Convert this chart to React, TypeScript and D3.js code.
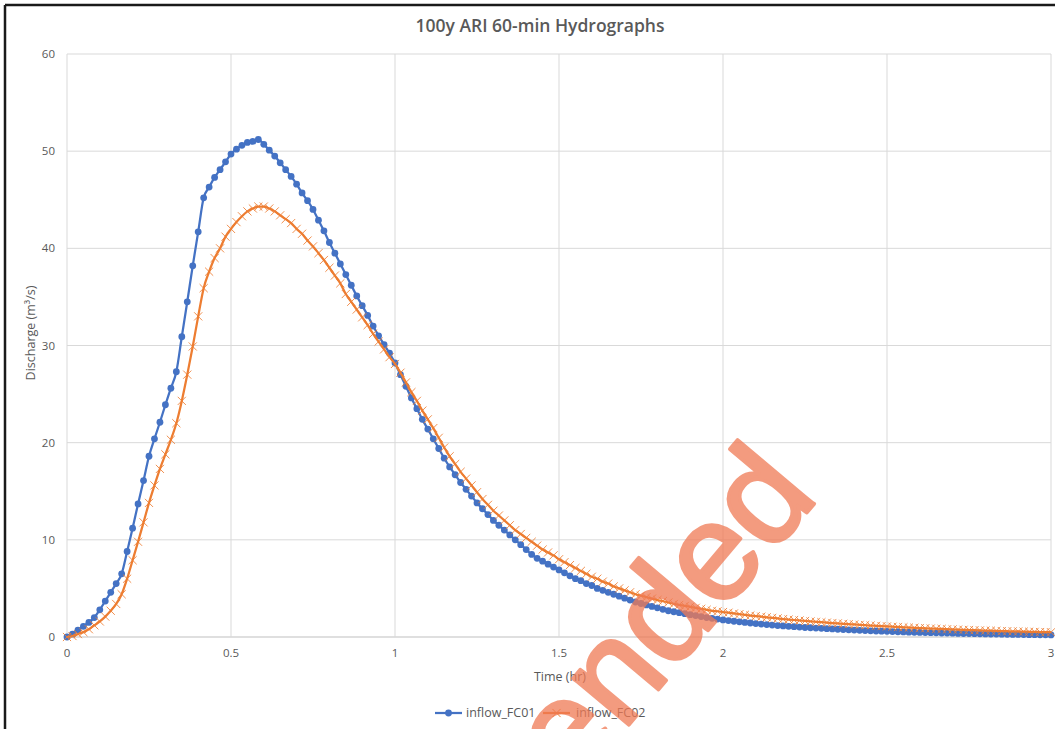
import React from "react";
import * as d3 from "d3";

const TITLE = "100y ARI 60-min Hydrographs";
const X_TITLE = "Time (hr)";
const Y_TITLE = "Discharge (m³/s)";
const SERIES_NAMES = ["inflow_FC01", "inflow_FC02"];
const X_TICKS = [0, 0.5, 1, 1.5, 2, 2.5, 3];
const X_TICK_LABELS = ["0", "0.5", "1", "1.5", "2", "2.5", "3"];
const Y_TICKS = [0, 10, 20, 30, 40, 50, 60];
const TIME_STEP_HR = 1 / 60;

// Discharge (m3/s), one value per minute from 0 to 180 min
const inflowFC01 = [
  0, 0.3, 0.7, 1.1, 1.5, 2.0, 2.8, 3.7, 4.6, 5.5,
  6.5, 8.8, 11.2, 13.7, 16.1, 18.6, 20.4, 22.1, 23.9, 25.6,
  27.3, 30.9, 34.5, 38.2, 41.7, 45.2, 46.3, 47.3, 48.1, 48.9,
  49.7, 50.2, 50.6, 50.9, 51.0, 51.2, 50.7, 50.1, 49.5, 48.8,
  48.1, 47.4, 46.6, 45.7, 44.9, 44.0, 42.9, 41.8, 40.6, 39.5,
  38.4, 37.3, 36.2, 35.1, 34.1, 33.1, 32.0, 31.0, 30.1, 29.2,
  28.2, 27.0, 25.8, 24.6, 23.5, 22.4, 21.4, 20.4, 19.4, 18.4,
  17.5, 16.7, 15.9, 15.2, 14.5, 13.8, 13.2, 12.6, 12.0, 11.5,
  11.0, 10.5, 10.0, 9.5, 9.0, 8.5, 8.1, 7.8, 7.5, 7.2,
  6.9, 6.6, 6.3, 6.0, 5.8, 5.5, 5.3, 5.0, 4.8, 4.6,
  4.4, 4.2, 4.0, 3.8, 3.6, 3.45, 3.3, 3.15, 3.0, 2.85,
  2.7, 2.6, 2.5, 2.4, 2.3, 2.2, 2.1, 2.0, 1.92, 1.84,
  1.76, 1.69, 1.62, 1.56, 1.5, 1.44, 1.38, 1.33, 1.28, 1.23,
  1.18, 1.14, 1.1, 1.06, 1.02, 0.98, 0.95, 0.92, 0.89, 0.86,
  0.83, 0.8, 0.77, 0.74, 0.71, 0.69, 0.66, 0.64, 0.62, 0.6,
  0.58, 0.56, 0.54, 0.52, 0.5, 0.49, 0.47, 0.46, 0.44, 0.43,
  0.41, 0.4, 0.39, 0.37, 0.36, 0.35, 0.34, 0.33, 0.32, 0.31,
  0.3, 0.29, 0.28, 0.27, 0.26, 0.25, 0.24, 0.24, 0.23, 0.22,
  0.21,
];

const inflowFC02 = [
  0, 0.1, 0.3, 0.5, 0.8, 1.2, 1.6, 2.1, 2.7, 3.4,
  4.4, 6.0, 7.9, 9.8, 11.8, 13.8, 15.6, 17.3, 18.8, 20.3,
  22.0, 24.3, 27.0, 29.9, 33.0, 35.9, 37.6, 39.0, 40.0, 41.2,
  42.0, 42.7, 43.3, 43.8, 44.1, 44.3, 44.3, 44.1, 43.8, 43.4,
  43.0, 42.6, 42.0, 41.5, 40.8, 40.2, 39.5, 38.8, 38.0, 37.2,
  36.4, 35.3, 34.5, 33.7, 32.9, 32.1, 31.2, 30.4, 29.6, 28.8,
  28.1, 27.2, 26.2, 25.2, 24.3, 23.3, 22.4, 21.5, 20.5, 19.5,
  18.6, 17.8, 17.0, 16.3, 15.6, 14.9, 14.2, 13.6, 13.0, 12.5,
  12.0, 11.5, 11.0, 10.6, 10.2, 9.8, 9.4, 9.0, 8.7, 8.4,
  8.0, 7.7, 7.4, 7.1, 6.8, 6.5, 6.2, 6.0, 5.7, 5.5,
  5.2, 5.0, 4.8, 4.6, 4.4, 4.25, 4.1, 3.95, 3.8, 3.7,
  3.55, 3.4, 3.3, 3.2, 3.1, 3.0, 2.9, 2.8, 2.7, 2.65,
  2.57, 2.5, 2.42, 2.35, 2.28, 2.21, 2.15, 2.09, 2.03, 1.97,
  1.91, 1.85, 1.8, 1.75, 1.7, 1.65, 1.6, 1.56, 1.52, 1.48,
  1.44, 1.4, 1.36, 1.32, 1.29, 1.25, 1.22, 1.18, 1.15, 1.12,
  1.09, 1.06, 1.03, 1.0, 0.97, 0.95, 0.92, 0.9, 0.87, 0.85,
  0.83, 0.8, 0.78, 0.76, 0.74, 0.72, 0.7, 0.68, 0.66, 0.65,
  0.63, 0.61, 0.6, 0.58, 0.57, 0.55, 0.54, 0.53, 0.51, 0.5,
  0.49,
];

const WATERMARK = "Amended";

const W = 1055;
const H = 729;
const BLUE = "#4472c4";
const ORANGE = "#ed7d31";
const FONT = "'Open Sans', 'Liberation Sans', sans-serif";

export default function App() {
  const x = d3.scaleLinear().domain([0, 3]).range([67, 1051]);
  const y = d3.scaleLinear().domain([0, 60]).range([637, 54]);

  const toPts = (vals: number[]) => vals.map((v, i) => [i * TIME_STEP_HR, v] as [number, number]);
  const blue = toPts(inflowFC01);
  const orange = toPts(inflowFC02);

  const line = d3
    .line<[number, number]>()
    .x((d) => x(d[0]))
    .y((d) => y(d[1]))
    .curve(d3.curveMonotoneX);

  const xSym = d3.symbol().type(d3.symbolX).size(45)() as string;

  return (
    <svg
      width={W}
      height={H}
      style={{ position: "absolute", left: 0, top: 0, display: "block", background: "#fff" }}
      fontFamily={FONT}
    >
      <rect x={0} y={0} width={W} height={H} fill="#fff" />
      {/* outer border */}
      <line x1={5} y1={5} x2={W} y2={5} stroke="#1a1a1a" strokeWidth={2.5} />
      <line x1={5} y1={5} x2={5} y2={H} stroke="#1a1a1a" strokeWidth={2.5} />

      {/* title */}
      <text x={540} y={32} textAnchor="middle" fontSize={17.5} fontWeight={600} fill="#595959">
        {TITLE}
      </text>

      {/* gridlines */}
      {Y_TICKS.map((t) => (
        <line key={"gy" + t} x1={x(0)} x2={x(3)} y1={y(t)} y2={y(t)} stroke={t === 0 ? "#bfbfbf" : "#d9d9d9"} strokeWidth={1} />
      ))}
      {X_TICKS.map((t) => (
        <line key={"gx" + t} x1={x(t)} x2={x(t)} y1={y(60)} y2={y(0)} stroke="#d9d9d9" strokeWidth={1} />
      ))}

      {/* y tick labels */}
      {Y_TICKS.map((t) => (
        <text key={"ty" + t} x={55} y={y(t) + 4} textAnchor="end" fontSize={11.5} fill="#595959">
          {t}
        </text>
      ))}
      {/* x tick labels */}
      {X_TICKS.map((t, i) => (
        <text key={"tx" + t} x={x(t)} y={657} textAnchor="middle" fontSize={11.5} fill="#595959">
          {X_TICK_LABELS[i]}
        </text>
      ))}

      {/* axis titles */}
      <text x={560} y={681} textAnchor="middle" fontSize={12.5} fill="#595959">
        {X_TITLE}
      </text>
      <text
        transform={`translate(35, 333) rotate(-90)`}
        textAnchor="middle"
        fontSize={12.5}
        fill="#595959"
      >
        {Y_TITLE}
      </text>

      {/* series FC01 */}
      <path d={line(blue) || ""} fill="none" stroke={BLUE} strokeWidth={2.25} />
      {blue.map((d, i) => (
        <circle key={"b" + i} cx={x(d[0])} cy={y(d[1])} r={3.4} fill={BLUE} />
      ))}

      {/* series FC02 */}
      <path d={line(orange) || ""} fill="none" stroke={ORANGE} strokeWidth={2.25} />
      {orange.map((d, i) => (
        <path
          key={"o" + i}
          d={xSym}
          transform={`translate(${x(d[0])},${y(d[1])})`}
          fill="none"
          stroke={ORANGE}
          strokeOpacity={0.85}
          strokeWidth={1}
        />
      ))}

      {/* legend */}
      <g>
        <line x1={435} x2={462} y1={713} y2={713} stroke={BLUE} strokeWidth={2.25} />
        <circle cx={448.5} cy={713} r={3.4} fill={BLUE} />
        <text x={466} y={717} fontSize={12.5} fill="#595959">
          {SERIES_NAMES[0]}
        </text>
        <line x1={543} x2={570} y1={713} y2={713} stroke={ORANGE} strokeWidth={2.25} />
        <path d={xSym} transform="translate(556.5,713)" fill="none" stroke={ORANGE} strokeWidth={1} />
        <text x={576} y={717} fontSize={12.5} fill="#595959">
          {SERIES_NAMES[1]}
        </text>
      </g>

      {/* watermark */}
      <g opacity={0.75}>
        <text
          transform="translate(820,497) rotate(-50)"
          textAnchor="end"
          fontSize={138}
          fontFamily="'Liberation Sans', Arial, sans-serif"
          fontWeight={400}
          fill="#f07a55"
          stroke="#f07a55"
          strokeWidth={3.5}
          strokeLinejoin="round"
        >
          {WATERMARK}
        </text>
      </g>
    </svg>
  );
}
